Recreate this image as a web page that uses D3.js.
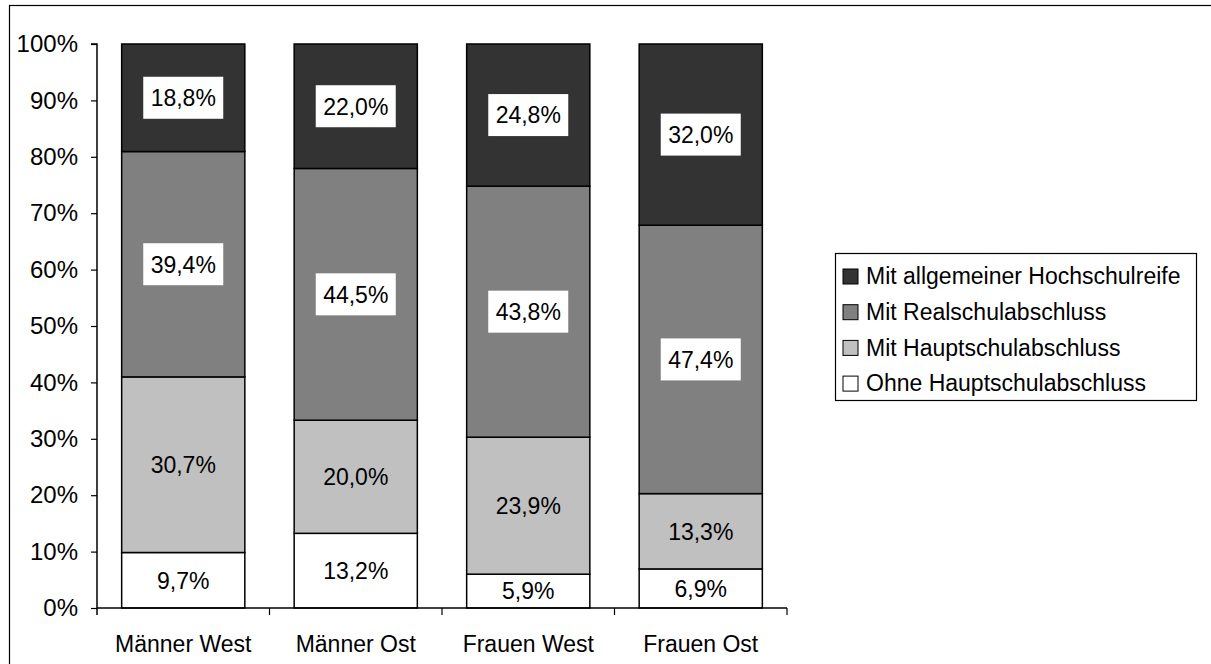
<!DOCTYPE html>
<html lang="de">
<head>
    <meta charset="UTF-8">
    <title>Schulabschluss nach Geschlecht und Region</title>
    <script src="https://d3js.org/d3.v7.min.js"></script>
    <style>
        body { margin: 0; background: #fff; }
        svg { display: block; font-family: Arial, "Liberation Sans", sans-serif; }
    </style>
</head>
<body>
    <svg width="1211" height="664"></svg>

    <script type="text/javascript">
        // Data
        const groups = ['Männer West', 'Männer Ost', 'Frauen West', 'Frauen Ost'];
        const series = ['Ohne Hauptschulabschluss', 'Mit Hauptschulabschluss', 'Mit Realschulabschluss', 'Mit allgemeiner Hochschulreife'];
        const ohneHS = [9.7, 13.2, 5.9, 6.9];
        const mitHS = [30.7, 20.0, 23.9, 13.3];
        const mitRS = [39.4, 44.5, 43.8, 47.4];
        const mitAbi = [18.8, 22.0, 24.8, 32.0];
        const yTicks = [0, 0.1, 0.2, 0.3, 0.4, 0.5, 0.6, 0.7, 0.8, 0.9, 1];

        const seriesValues = [ohneHS, mitHS, mitRS, mitAbi];
        const table = groups.map((g, i) => {
            const row = { group: g };
            series.forEach((s, j) => { row[s] = seriesValues[j][i]; });
            return row;
        });

        const width = 1211;
        const height = 664;
        const margin = { top: 44, right: 424, bottom: 56, left: 97 };
        const fontSize = 23;

        const svg = d3.select('svg');

        // outer frame
        svg.append('rect')
            .attr('x', 9.5).attr('y', 5.5)
            .attr('width', width).attr('height', height)
            .attr('fill', 'none').attr('stroke', '#000').attr('stroke-width', 1.2);

        const stack = d3.stack().keys(series).offset(d3.stackOffsetExpand);
        const stacked = stack(table);

        const x = d3.scaleBand()
            .domain(groups)
            .range([margin.left, width - margin.right])
            .paddingInner(0.286)
            .paddingOuter(0.143);

        const y = d3.scaleLinear()
            .domain([0, 1])
            .range([height - margin.bottom, margin.top]);

        const color = d3.scaleOrdinal()
            .domain(series)
            .range(['#ffffff', '#c0c0c0', '#808080', '#333333']);

        // Bars
        const layer = svg.selectAll('.layer')
            .data(stacked)
            .join('g')
            .attr('class', 'layer')
            .attr('fill', d => color(d.key));

        layer.selectAll('rect')
            .data(d => d)
            .join('rect')
            .attr('x', d => x(d.data.group))
            .attr('y', d => y(d[1]))
            .attr('width', x.bandwidth())
            .attr('height', d => y(d[0]) - y(d[1]))
            .attr('stroke', '#000')
            .attr('stroke-width', 1.5);

        // Axes
        const yAxis = svg.append('g')
            .attr('transform', `translate(${margin.left},0)`)
            .call(d3.axisLeft(y).tickValues(yTicks).tickFormat(d3.format('.0%')).tickSize(6).tickPadding(13));
        yAxis.select('.domain').attr('d', `M-6,${y(1)}H0V${y(0) + 7}`);

        const step = x.step();
        const xAxis = svg.append('g')
            .attr('transform', `translate(0,${y(0)})`);
        xAxis.append('path')
            .attr('d', `M${margin.left},0H${width - margin.right}`)
            .attr('stroke', '#000').attr('stroke-width', 1.5);
        xAxis.selectAll('line')
            .data(groups)
            .join('line')
            .attr('x1', d => x(d) + x.bandwidth() + step * 0.143)
            .attr('x2', d => x(d) + x.bandwidth() + step * 0.143)
            .attr('y1', 0).attr('y2', 7)
            .attr('stroke', '#000').attr('stroke-width', 1.2);
        xAxis.selectAll('text')
            .data(groups)
            .join('text')
            .attr('x', d => x(d) + x.bandwidth() / 2)
            .attr('y', 44)
            .attr('text-anchor', 'middle')
            .attr('font-size', fontSize)
            .attr('fill', '#000')
            .text(d => d);

        svg.selectAll('.tick text').attr('font-size', 24).attr('fill', '#000');
        svg.selectAll('.tick line').attr('stroke', '#000').attr('stroke-width', 1.2);
        yAxis.select('.domain').attr('stroke', '#000').attr('stroke-width', 1.5);

        // Value labels
        const fmt = v => d3.format('.1f')(v).replace('.', ',') + '%';
        const labels = svg.append('g');
        stacked.forEach((s, j) => {
            s.forEach((d, i) => {
                const cx = x(d.data.group) + x.bandwidth() / 2;
                const cy = (y(d[0]) + y(d[1])) / 2;
                const g = labels.append('g').attr('transform', `translate(${cx},${cy})`);
                if (j >= 2) {
                    g.append('rect')
                        .attr('x', -40).attr('y', -21)
                        .attr('width', 80).attr('height', 42)
                        .attr('fill', '#fff');
                }
                g.append('text')
                    .attr('text-anchor', 'middle')
                    .attr('dy', '0.36em')
                    .attr('font-size', fontSize)
                    .text(fmt(seriesValues[j][i]));
            });
        });

        // Legend
        const legend = svg.append('g').attr('transform', 'translate(835,253)');
        legend.append('rect')
            .attr('x', 0.5).attr('y', 0.5)
            .attr('width', 361).attr('height', 147)
            .attr('fill', '#fff').attr('stroke', '#000').attr('stroke-width', 1.2);
        const items = legend.selectAll('.item')
            .data(series.slice().reverse())
            .join('g')
            .attr('class', 'item')
            .attr('transform', (d, i) => `translate(0,${23 + i * 35.7})`);
        items.append('rect')
            .attr('x', 8).attr('y', -7)
            .attr('width', 15).attr('height', 15)
            .attr('fill', d => color(d))
            .attr('stroke', '#000').attr('stroke-width', 1);
        items.append('text')
            .attr('x', 31)
            .attr('dy', '0.36em')
            .attr('font-size', fontSize)
            .text(d => d);
    </script>
</body>
</html>
